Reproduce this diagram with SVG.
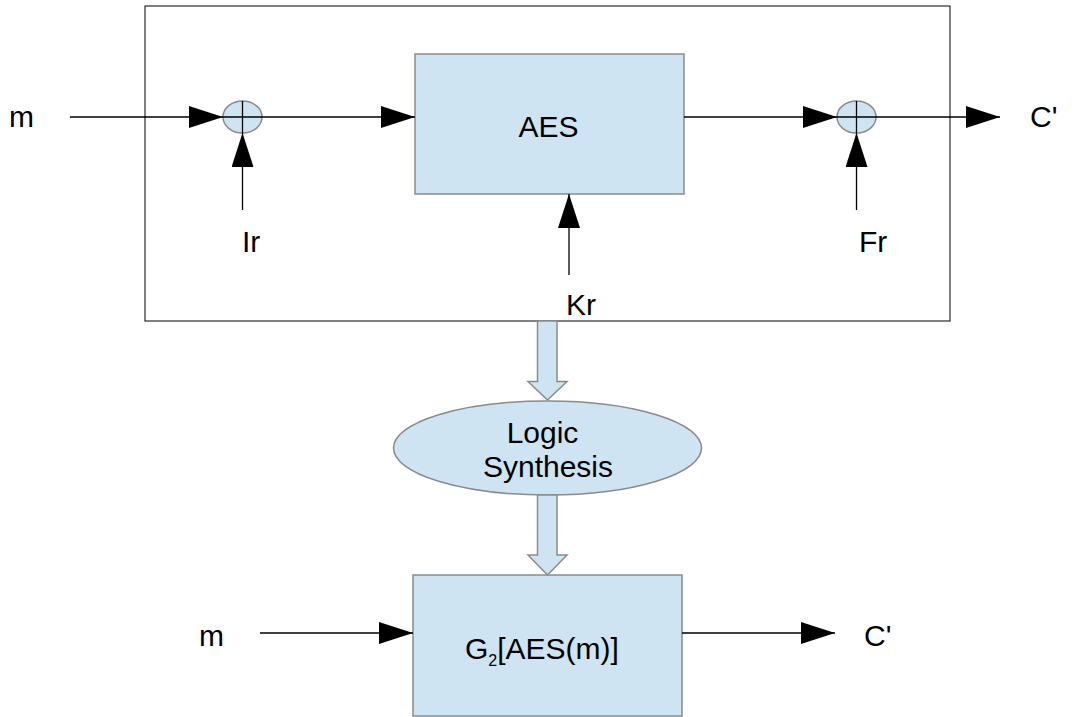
<svg xmlns="http://www.w3.org/2000/svg" width="1092" height="717" viewBox="0 0 1092 717">
<defs>
<marker id="ah" markerWidth="34" markerHeight="22" refX="34" refY="11" markerUnits="userSpaceOnUse" orient="auto">
<path d="M0,0 L34,11 L0,22 Z" fill="#000"/>
</marker>
<style>
.t{font-family:"Liberation Sans",Arial,sans-serif;font-size:30px;fill:#000}
.blk{fill:#cfe4f2;stroke:#8a8a8a;stroke-width:1.5}
.ln{stroke:#000;stroke-width:1.3;fill:none}
</style>
</defs>
<rect width="1092" height="717" fill="#fff"/>
<g id="outer"><rect x="145" y="6" width="805" height="315" fill="none" stroke="#000" stroke-width="1"/></g>
<g id="aes"><rect class="blk" x="415" y="54" width="269" height="140"/><text class="t" x="548.5" y="137" text-anchor="middle">AES</text></g>
<g id="xor1"><ellipse class="blk" cx="242.5" cy="117" rx="19.5" ry="16"/><path class="ln" d="M223,117 H262 M242.5,101 V133" stroke-width="1.5"/></g>
<g id="xor2"><ellipse class="blk" cx="856.5" cy="117" rx="19.5" ry="16"/><path class="ln" d="M837,117 H876 M856.5,101 V133" stroke-width="1.5"/></g>
<g id="logic"><ellipse class="blk" cx="547.5" cy="448" rx="154" ry="47"/><text class="t" x="542.5" y="443" text-anchor="middle" font-size="32">Logic</text><text class="t" x="548" y="477" text-anchor="middle" font-size="32">Synthesis</text></g>
<g id="g2"><rect class="blk" x="413" y="575" width="269" height="141"/><text class="t" x="465" y="659" font-size="32">G<tspan font-size="16" dy="7">2</tspan><tspan dy="-7">[AES(m)]</tspan></text></g>
<g id="labels">
<text class="t" x="9" y="127">m</text>
<text class="t" x="1030" y="127">C'</text>
<text class="t" x="242" y="252">Ir</text>
<text class="t" x="859" y="252">Fr</text>
<text class="t" x="566" y="315">Kr</text>
<text class="t" x="199" y="646">m</text>
<text class="t" x="864" y="646">C'</text>
</g>
<g id="connectors">
<line class="ln" x1="70" y1="117" x2="223" y2="117" marker-end="url(#ah)"/>
<line class="ln" x1="262" y1="117" x2="415" y2="117" marker-end="url(#ah)"/>
<line class="ln" x1="684" y1="117" x2="837" y2="117" marker-end="url(#ah)"/>
<line class="ln" x1="876" y1="117" x2="1000" y2="117" marker-end="url(#ah)"/>
<line class="ln" x1="242.5" y1="210" x2="242.5" y2="133" marker-end="url(#ah)"/>
<line class="ln" x1="856.5" y1="210" x2="856.5" y2="133" marker-end="url(#ah)"/>
<line class="ln" x1="569" y1="275" x2="569" y2="194" marker-end="url(#ah)"/>
<line class="ln" x1="260" y1="633" x2="413" y2="633" marker-end="url(#ah)"/>
<line class="ln" x1="682" y1="633" x2="835" y2="633" marker-end="url(#ah)"/>
<path class="blk" d="M537.5,321 H557 V381.5 H567 L547.5,400 L528,381.5 H537.5 Z"/>
<path class="blk" d="M537.5,495 H557 V555 H567 L547.5,575 L528,555 H537.5 Z"/>
</g>
</svg>
